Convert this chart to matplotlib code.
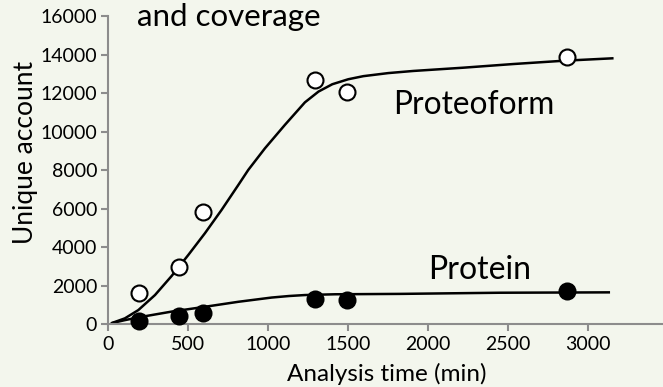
import matplotlib
matplotlib.use('Agg')
import matplotlib.pyplot as plt
import numpy as np

# measured points
time_min = [194, 442, 590, 1294, 1490, 2869]
proteoform = [1620, 2970, 5830, 12700, 12060, 13880]
protein = [200, 440, 580, 1330, 1280, 1720]

# fitted curves
fit_x_proteoform = [17, 104, 188, 292, 396, 500, 604, 708, 813, 875, 979, 1104,
                    1229, 1314, 1400, 1500, 1594, 1750, 1906, 2219, 2531, 2844, 3158]
fit_y_proteoform = [60, 320, 750, 1530, 2520, 3610, 4740, 5950, 7250, 8030, 9150,
                    10370, 11540, 12100, 12480, 12740, 12900, 13060, 13170, 13340,
                    13530, 13700, 13830]
fit_x_protein = [17, 100, 188, 396, 604, 813, 1021, 1130, 1229, 1417, 1823, 2448, 3136]
fit_y_protein = [60, 220, 370, 670, 920, 1180, 1400, 1480, 1530, 1570, 1590, 1650, 1670]

xticks = [0, 500, 1000, 1500, 2000, 2500, 3000]
yticks = [0, 2000, 4000, 6000, 8000, 10000, 12000, 14000, 16000]

bg = '#f3f6ed'
grey = '#8c8c8c'
plt.rcParams['font.family'] = ['Lato', 'DejaVu Sans']

fig = plt.figure(figsize=(6.63, 3.87), dpi=100, facecolor=bg)
ax = fig.add_axes([0.1633, 0.1615, 0.8367, 0.7959], facecolor=bg)

ax.plot(fit_x_proteoform, fit_y_proteoform, color='black', lw=1.8, zorder=2,
        solid_capstyle='butt', solid_joinstyle='round')
ax.plot(fit_x_protein, fit_y_protein, color='black', lw=1.8, zorder=2,
        solid_capstyle='butt', solid_joinstyle='round')
ax.plot(time_min, proteoform, 'o', ms=11.5, mfc='white', mec='black', mew=1.5,
        zorder=3, clip_on=False)
ax.plot(time_min, protein, 'o', ms=11.5, mfc='black', mec='black', mew=1.5,
        zorder=3, clip_on=False)

ax.set_xlim(0, 3467)
ax.set_ylim(0, 16000)
ax.set_xticks(xticks)
ax.set_yticks(yticks)
ax.tick_params(axis='both', colors=grey, labelcolor='black', labelsize=14,
               length=5, width=1.5, direction='out', pad=3)
for side in ['top', 'right']:
    ax.spines[side].set_visible(False)
for side in ['left', 'bottom']:
    ax.spines[side].set_color(grey)
    ax.spines[side].set_linewidth(1.5)

ax.text(1779, 11400, 'Proteoform', fontsize=22.8, va='center', ha='left')
ax.text(1998, 2830, 'Protein', fontsize=23, va='center', ha='left')

ax.set_xlabel('Analysis time (min)', fontsize=17.5, va='baseline')
ax.set_ylabel('Unique account', fontsize=19, va='center')
ax.xaxis.set_label_coords(0.5015, -0.183)
ax.yaxis.set_label_coords(-0.150, 0.558)

fig.text(137 / 663, (387 - 26) / 387, 'and coverage', fontsize=22.5,
         ha='left', va='baseline')

fig.savefig('out.png', dpi=100, facecolor=bg)
